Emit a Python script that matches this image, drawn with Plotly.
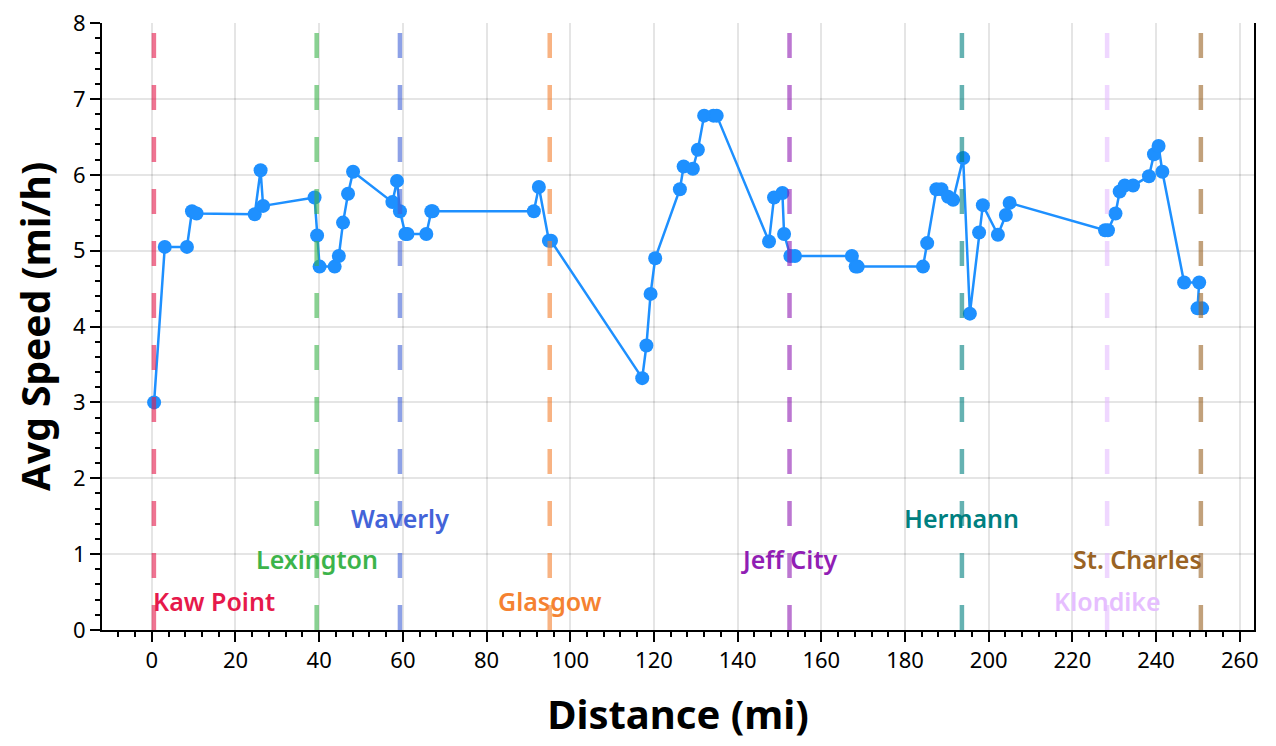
import plotly.graph_objects as go

# ---- data ----
distance_mi = [0.55, 3.1, 8.4, 9.6, 10.7, 24.6, 26.0, 26.6, 38.9, 39.5, 40.1, 43.7,
               44.7, 45.7, 46.9, 48.1, 57.5, 58.6, 59.3, 60.6, 61.1, 65.6, 66.8, 67.1,
               91.3, 92.5, 94.9, 95.4, 117.2, 118.2, 119.2, 120.3, 126.2, 127.1, 129.3,
               130.5, 132.0, 134.2, 135.0, 147.5, 148.7, 150.7, 151.1, 152.6, 153.7,
               167.3, 168.2, 168.7, 184.3, 185.3, 187.5, 188.7, 190.3, 191.5, 193.9,
               195.5, 197.7, 198.6, 202.2, 204.1, 205.0, 227.8, 228.5, 230.3, 231.3,
               232.5, 234.5, 238.3, 239.5, 240.6, 241.5, 246.7, 250.3, 249.9, 251.0]
avg_speed = [3.00, 5.05, 5.05, 5.52, 5.49, 5.48, 6.06, 5.59, 5.70, 5.20, 4.79, 4.79,
             4.93, 5.37, 5.75, 6.04, 5.64, 5.92, 5.52, 5.22, 5.22, 5.22, 5.52, 5.52,
             5.52, 5.84, 5.13, 5.13, 3.32, 3.75, 4.43, 4.90, 5.81, 6.11, 6.08,
             6.33, 6.78, 6.78, 6.78, 5.12, 5.70, 5.76, 5.22, 4.93, 4.93,
             4.93, 4.79, 4.79, 4.79, 5.10, 5.81, 5.81, 5.71, 5.67, 6.22,
             4.17, 5.24, 5.60, 5.21, 5.47, 5.63, 5.27, 5.27, 5.49, 5.78,
             5.86, 5.86, 5.98, 6.27, 6.38, 6.04, 4.58, 4.58, 4.24, 4.24]

town_names = ["Kaw Point", "Lexington", "Waverly", "Glasgow", "Jeff City",
              "Hermann", "Klondike", "St. Charles"]
town_miles = [0.5, 39.4, 59.3, 95.1, 152.4, 193.6, 228.3, 250.7]
town_label_y = [0.38, 0.94, 1.48, 0.38, 0.94, 1.48, 0.38, 0.94]
town_colors = ["#e6194b", "#3cb44b", "#4363d8", "#f58231", "#911eb4",
               "#008080", "#e6beff", "#9a6324"]

x_range = [-11.9, 263.4]
y_range = [0, 8.001]

FONT = "Noto Sans, Segoe UI, sans-serif"

fig = go.Figure()
fig.add_trace(go.Scatter(
    x=distance_mi, y=avg_speed, mode="lines+markers",
    line=dict(color="#1E90FF", width=2.5),
    marker=dict(color="#1E90FF", size=14),
    showlegend=False,
))

n = len(town_names)
for i, (name, mile, ly, col) in enumerate(zip(town_names, town_miles, town_label_y, town_colors)):
    fig.add_shape(type="line", xref="x", yref="y", x0=mile, x1=mile,
                  y0=0, y1=8,
                  line=dict(color=col, width=4.5, dash="25px,27px"),
                  opacity=0.6, layer="above")
    anchor = "left" if i == 0 else ("right" if i == n - 1 else "center")
    fig.add_annotation(x=mile, y=ly, xref="x", yref="y", text=name,
                       showarrow=False, xanchor=anchor, yanchor="middle",
                       xshift=(-3 if i == 0 else (3 if i == n - 1 else 0)),
                       font=dict(family=FONT, size=25, color=col, weight=600))

axis_common = dict(
    showline=True, linecolor="black", linewidth=2,
    ticks="outside", ticklen=10, tickwidth=2, tickcolor="black",
    showgrid=True, gridcolor="rgba(0,0,0,0.1)", gridwidth=2,
    zeroline=False, automargin=False, ticklabeloverflow="allow",
    tickfont=dict(family=FONT, size=22, color="black"),
)

fig.update_xaxes(
    range=x_range, tick0=0, dtick=20,
    title=dict(text="Distance (mi)", font=dict(family=FONT, size=40, color="black", weight="bold"), standoff=28),
    minor=dict(dtick=4, tick0=0, ticks="outside", ticklen=5, tickwidth=2, tickcolor="black", showgrid=False),
    mirror=False,
    **axis_common,
)
fig.update_yaxes(
    range=y_range, tick0=0, dtick=1,
    title=dict(text="Avg Speed (mi/h)", font=dict(family=FONT, size=39, color="black", weight="bold"), standoff=16),
    minor=dict(dtick=0.2, tick0=0, ticks="outside", ticklen=5, tickwidth=2, tickcolor="black", showgrid=False),
    mirror=True,
    **axis_common,
)

# page body adds an 8px offset; size and margins compensate for it
fig.update_layout(
    width=1268, height=738,
    margin=dict(l=94, r=22, t=15, b=116),
    plot_bgcolor="white", paper_bgcolor="white",
    font=dict(family=FONT, color="black"),
    showlegend=False,
)

fig.write_html("out.html")
